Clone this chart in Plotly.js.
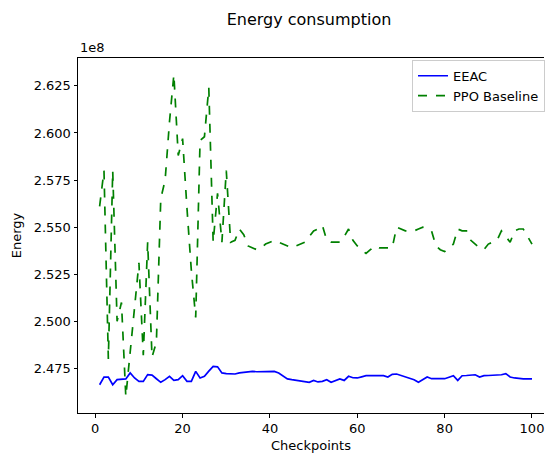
<!DOCTYPE html>
<html>
<head>
<meta charset="utf-8">
<script src="https://cdn.plot.ly/plotly-3.0.1.min.js"></script>
<style>
html,body{margin:0;padding:0;overflow:hidden;background:#fff;}
#chart{width:545px;height:453px;}
</style>
</head>
<body>
<div id="chart"></div>
<script>
// Checkpoints 1..100
const checkpoints = [];
for (let i = 1; i <= 100; i++) checkpoints.push(i);

// Energy values in units of 1e8
const eeac = [
2.4663,2.4704,2.4704,2.4663,2.4690,2.4694,2.4694,2.4726,2.4699,2.4681,
2.4681,2.4717,2.4714,2.4695,2.4676,2.4690,2.4708,2.4686,2.4690,2.4711,
2.4681,2.4681,2.4734,2.4699,2.4708,2.4735,2.4760,2.4758,2.4726,2.4722,
2.4722,2.4720,2.4726,2.4729,2.4729,2.4734,2.4732,2.4732,2.4734,2.4734,
2.4734,2.4725,2.4710,2.4694,2.4690,2.4686,2.4684,2.4681,2.4676,2.4686,
2.4678,2.4681,2.4690,2.4676,2.4686,2.4694,2.4686,2.4708,2.4700,2.4699,
2.4705,2.4711,2.4711,2.4711,2.4711,2.4711,2.4704,2.4718,2.4720,2.4713,
2.4706,2.4699,2.4690,2.4676,2.4690,2.4704,2.4695,2.4695,2.4695,2.4695,
2.4703,2.4711,2.4686,2.4711,2.4712,2.4713,2.4716,2.4704,2.4711,2.4712,
2.4713,2.4714,2.4716,2.4722,2.4704,2.4699,2.4696,2.4694,2.4694,2.4694
];
const ppo = [
2.561,2.580,2.480,2.580,2.500,2.510,2.460,2.485,2.510,2.531,
2.482,2.542,2.481,2.489,2.565,2.575,2.606,2.631,2.588,2.597,
2.560,2.527,2.502,2.596,2.598,2.624,2.542,2.568,2.542,2.580,
2.542,2.543,2.549,2.546,2.540,2.539,2.538,2.539,2.541,2.542,
2.543,2.542,2.541,2.540,2.539,2.540,2.541,2.542,2.545,2.548,
2.549,2.551,2.543,2.542,2.542,2.542,2.545,2.549,2.543,2.540,
2.538,2.536,2.538,2.540,2.539,2.539,2.539,2.539,2.550,2.549,
2.548,2.548,2.548,2.549,2.550,2.549,2.548,2.540,2.538,2.537,
2.539,2.541,2.549,2.548,2.548,2.543,2.541,2.539,2.538,2.541,
2.542,2.543,2.548,2.545,2.542,2.548,2.549,2.549,2.545,2.541
];
const yTicks = [2.475, 2.500, 2.525, 2.550, 2.575, 2.600, 2.625];
const xTicks = [0, 20, 40, 60, 80, 100];

const font = "DejaVu Sans, sans-serif";

const data = [
  {x: checkpoints, y: eeac, type: 'scatter', mode: 'lines', name: 'EEAC',
   line: {color: '#0000ff', width: 1.7}},
  {x: checkpoints, y: ppo, type: 'scatter', mode: 'lines', name: 'PPO Baseline',
   line: {color: '#008000', width: 1.7, dash: 'dash'}}
];

const layout = {
  width: 545, height: 453,
  margin: {l: 78, r: 0, t: 58, b: 40, pad: 0},
  paper_bgcolor: '#fff', plot_bgcolor: '#fff',
  font: {family: font, size: 13, color: '#000'},
  showlegend: true,
  title: {text: 'Energy consumption', font: {family: font, size: 16, color: '#000'},
          x: 309/545, xref: 'container', xanchor: 'center',
          y: 1 - 19/453, yref: 'container', yanchor: 'middle'},
  xaxis: {range: [-3.95, 102.75], tickvals: xTicks, ticks: 'outside', ticklen: 3.5,
          tickcolor: '#000', showline: true, mirror: true, linecolor: '#000', linewidth: 1,
          showgrid: false, zeroline: false, tickfont: {size: 13},
          title: {text: 'Checkpoints', font: {size: 13}, standoff: 6}},
  yaxis: {range: [2.4513, 2.6398], tickvals: yTicks, tickformat: '.3f', ticks: 'outside',
          ticklen: 3.5, tickcolor: '#000', showline: true, mirror: false, linecolor: '#000',
          linewidth: 1, showgrid: false, zeroline: false, tickfont: {size: 13},
          title: {text: 'Energy', font: {size: 13}, standoff: 9}},
  legend: {x: (413 - 78) / 467, y: 0.995, xanchor: 'left', yanchor: 'top', bgcolor: 'rgba(255,255,255,0.8)',
           bordercolor: '#cccccc', borderwidth: 1, font: {size: 13}, tracegroupgap: 0},
  annotations: [{text: '1e8', xref: 'paper', yref: 'paper', x: 0, y: 1, xanchor: 'left',
                 yanchor: 'bottom', yshift: 1, showarrow: false, font: {size: 13}}]
};

Plotly.newPlot('chart', data, layout, {displayModeBar: false, staticPlot: true});
</script>
</body>
</html>
